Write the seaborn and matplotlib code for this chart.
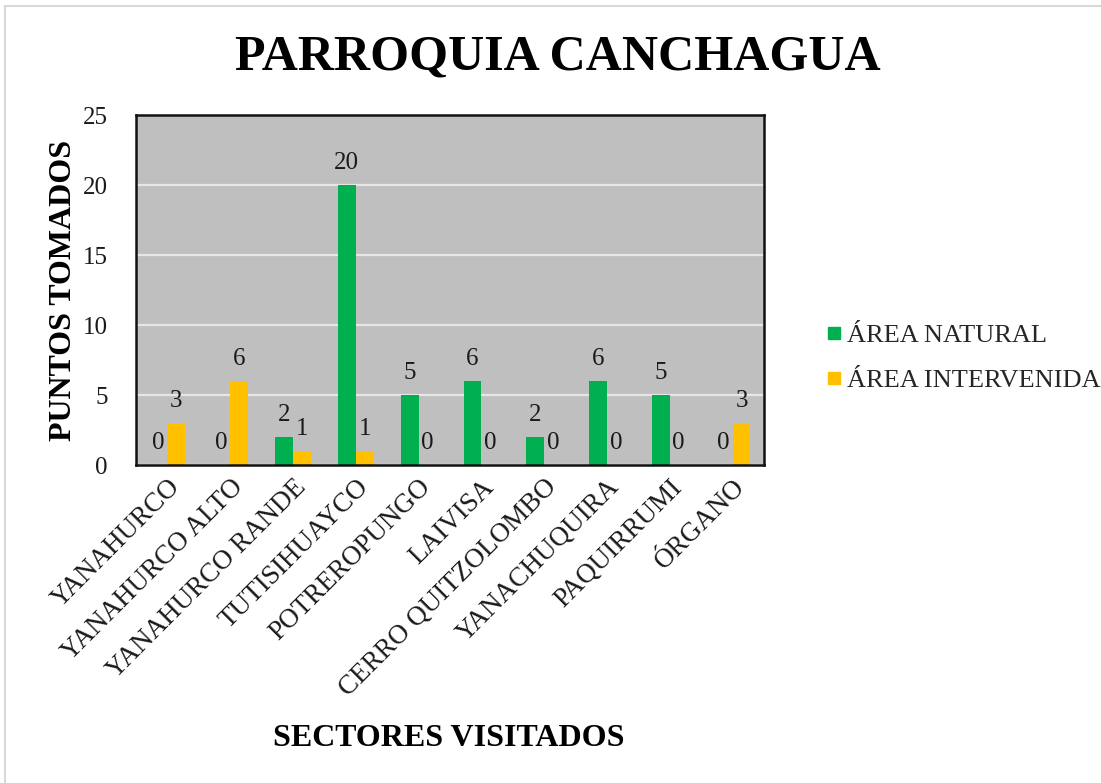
import matplotlib
matplotlib.use('Agg')
import matplotlib.pyplot as plt
import seaborn as sns
import pandas as pd
from matplotlib.lines import Line2D

sectores = ["YANAHURCO", "YANAHURCO ALTO", "YANAHURCO RANDE", "TUTISIHUAYCO",
            "POTREROPUNGO", "LAIVISA", "CERRO QUITZOLOMBO", "YANACHUQUIRA",
            "PAQUIRRUMI", "ÓRGANO"]
area_natural = [0, 0, 2, 20, 5, 6, 2, 6, 5, 0]
area_intervenida = [3, 6, 1, 1, 0, 0, 0, 0, 0, 3]
series = ["ÁREA NATURAL", "ÁREA INTERVENIDA"]
colores = ["#00B050", "#FFC000"]
yticks = [0, 5, 10, 15, 20, 25]

df = pd.DataFrame({
    "sector": sectores * 2,
    "serie": [series[0]] * len(sectores) + [series[1]] * len(sectores),
    "valor": area_natural + area_intervenida,
})

sns.set_theme(style="white")
plt.rcParams['font.family'] = ['Liberation Serif', 'DejaVu Serif']

W, H = 1101, 783
fig = plt.figure(figsize=(W / 100, H / 100), dpi=100)
ax = fig.add_axes([136 / W, 1 - 465 / H, 628 / W, 350 / H])

sns.barplot(data=df, x="sector", y="valor", hue="serie", palette=colores,
            width=0.57, saturation=1, ax=ax, legend=False, zorder=3,
            edgecolor="none", linewidth=0)

for cont in ax.containers:
    ax.bar_label(cont, fmt="%d", padding=8, fontsize=18, color="#1a1a1a")

ax.set_facecolor("#BFBFBF")
ax.set_ylim(0, 25)
ax.set_yticks(yticks)
ax.yaxis.grid(True, color="#E6E6E6", lw=1.6, zorder=0)
ax.set_axisbelow(True)
for s in ax.spines.values():
    s.set_color("#111111")
    s.set_linewidth(1.8)
    s.set_zorder(5)
ax.tick_params(axis="y", length=0, pad=20.5, labelsize=18, labelcolor="#1a1a1a")
ax.tick_params(axis="x", length=0, pad=7, labelsize=19.5, labelcolor="#1a1a1a")
plt.setp(ax.get_xticklabels(), rotation=45, ha="right", rotation_mode="anchor")
ax.set_xlabel("")
ax.set_ylabel("")

fig.text(558 / W, 1 - 58 / H, "PARROQUIA CANCHAGUA", ha="center", va="center",
         fontsize=36, fontweight="bold", color="black")
fig.text(449 / W, 1 - 738 / H, "SECTORES VISITADOS", ha="center", va="center",
         fontsize=23, fontweight="bold", color="black")
fig.text(64 / W, 1 - 290 / H, "PUNTOS TOMADOS", ha="center", va="center",
         rotation=90, fontsize=23, fontweight="bold", color="black")

handles = [Line2D([], [], marker="s", ls="", color=c, markersize=9) for c in colores]
fig.legend(handles, series, loc="center left", bbox_to_anchor=(810 / W, 1 - 358 / H),
           frameon=False, fontsize=19, handletextpad=0.0, labelspacing=0.8,
           handlelength=1.0, borderaxespad=0)

fig.add_artist(Line2D([5 / W, 1], [1 - 6 / H, 1 - 6 / H], color="#D9D9D9", lw=1.5,
                      transform=fig.transFigure))
fig.add_artist(Line2D([5 / W, 5 / W], [0, 1 - 6 / H], color="#D9D9D9", lw=1.5,
                      transform=fig.transFigure))

fig.savefig("out.png", dpi=100)
